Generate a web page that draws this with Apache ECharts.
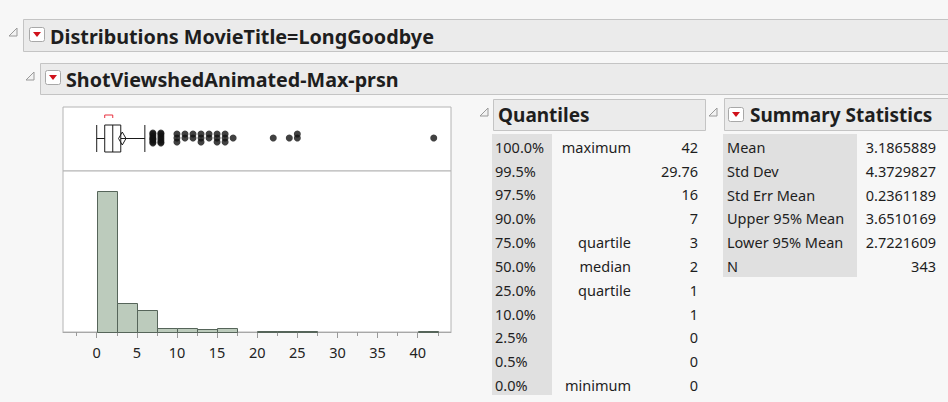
<!DOCTYPE html>
<html>
<head>
<meta charset="utf-8">
<script src="https://cdn.jsdelivr.net/npm/echarts@6/dist/echarts.min.js"></script>
<style>
  html, body { margin: 0; padding: 0; background: #f7f7f7; }
  #chart { width: 948px; height: 402px; }
</style>
</head>
<body>
<div id="chart"></div>
<script>
// ---- Data ----
const reportTitle = 'Distributions MovieTitle=LongGoodbye';
const columnTitle = 'ShotViewshedAnimated-Max-prsn';

// Histogram: bin start values (width 2.5) and counts
const binStarts = [0, 2.5, 5, 7.5, 10, 12.5, 15, 20, 22.5, 25, 40];
const binCounts = [227, 47, 36, 7, 7, 5, 7, 1, 1, 2, 1];
const binWidth = 2.5;

// Outlier points beyond the upper whisker, with how many shots share each value
const outlierValues = [7, 8, 10, 11, 12, 13, 14, 15, 16, 17, 22, 24, 25, 42];
const outlierCounts = [8, 7, 3, 2, 2, 3, 2, 3, 3, 1, 1, 1, 2, 1];
const upperWhisker = 6;
const shortestHalf = [1, 2];

// Axis tick labels
const majorTicks = [0, 5, 10, 15, 20, 25, 30, 35, 40];
const minorTicks = [-2.5, 2.5, 7.5, 12.5, 17.5, 22.5, 27.5, 32.5, 37.5, 42.5];

// Quantiles table
const quantileLevels = ['100.0%', '99.5%', '97.5%', '90.0%', '75.0%', '50.0%', '25.0%', '10.0%', '2.5%', '0.5%', '0.0%'];
const quantileNames = ['maximum', '', '', '', 'quartile', 'median', 'quartile', '', '', '', 'minimum'];
const quantileValues = ['42', '29.76', '16', '7', '3', '2', '1', '1', '0', '0', '0'];

// Summary statistics table
const summaryNames = ['Mean', 'Std Dev', 'Std Err Mean', 'Upper 95% Mean', 'Lower 95% Mean', 'N'];
const summaryValues = ['3.1865889', '4.3729827', '0.2361189', '3.6510169', '2.7221609', '343'];

// ---- Derived values ----
const qMin = +quantileValues[10];
const q1 = +quantileValues[6];
const qMed = +quantileValues[5];
const q3 = +quantileValues[4];
const mean = +summaryValues[0];
const upper95 = +summaryValues[3];
const lower95 = +summaryValues[4];

const FONT = '"Noto Sans", "Open Sans", sans-serif';
const TXT = '#1e1e1e';
const CELL_FONT = '14.5px ' + FONT;

// ---- Report chrome (outline headers, icons, tables) ----
const graphics = [];

function header(x, y, w, h) {
  graphics.push({ type: 'rect', silent: true, shape: { x: x + 0.5, y: y + 0.5, width: w, height: h },
    style: { fill: '#ebebeb', stroke: '#c4c4c4', lineWidth: 1 } });
}
function disclosure(x, y) {
  graphics.push({ type: 'polygon', silent: true,
    shape: { points: [[x + 7, y], [x + 7, y + 8], [x - 1, y + 8]] },
    style: { fill: '#f2f2f2', stroke: '#9a9a9a', lineWidth: 1 } });
}
function menuIcon(x, y) {
  graphics.push({ type: 'rect', silent: true, shape: { x: x + 0.5, y: y + 0.5, width: 15, height: 14, r: 2 },
    style: { fill: '#ffffff', stroke: '#a8a8a8', lineWidth: 1 } });
  graphics.push({ type: 'polygon', silent: true,
    shape: { points: [[x + 4, y + 5], [x + 12, y + 5], [x + 8, y + 10]] },
    style: { fill: '#d0121b' } });
}
function text(str, x, y, opts) {
  graphics.push({ type: 'text', silent: true, style: Object.assign({
    text: str, x: x, y: y, fill: TXT, font: CELL_FONT,
    textAlign: 'left', textVerticalAlign: 'middle' }, opts || {}) });
}

// Report headers
header(23, 19, 940, 32);
disclosure(10, 28);
menuIcon(29, 27);
text(reportTitle, 50, 36, { font: 'bold 19.8px ' + FONT });

header(40, 63, 920, 31);
disclosure(27, 72);
menuIcon(45, 70);
text(columnTitle, 66, 79, { font: 'bold 19.7px ' + FONT });

// Quantiles
header(493, 99, 212, 31);
disclosure(481, 108);
text('Quantiles', 498, 115, { font: 'bold 19px ' + FONT });
graphics.push({ type: 'rect', silent: true, shape: { x: 492, y: 134, width: 60, height: 261 },
  style: { fill: '#e0e0e0' } });
quantileLevels.forEach(function (lv, i) {
  const y = 146.7 + i * 23.83;
  text(lv, 495, y);
  if (quantileNames[i]) text(quantileNames[i], 631, y, { textAlign: 'right' });
  text(quantileValues[i], 698, y, { textAlign: 'right' });
});

// Summary Statistics
header(724, 98, 240, 32);
disclosure(710, 108);
menuIcon(728, 107);
text('Summary Statistics', 750, 115, { font: 'bold 19px ' + FONT });
graphics.push({ type: 'rect', silent: true, shape: { x: 723, y: 134, width: 134, height: 143 },
  style: { fill: '#e0e0e0' } });
summaryNames.forEach(function (nm, i) {
  const y = 147.3 + i * 23.7;
  text(nm, 727, y);
  text(summaryValues[i], 936, y, { textAlign: 'right' });
});

// ---- Outlier points, stacked with a small vertical jitter ----
const jitter = [0, -4, 4, -2, 2, -5, 5, 1];
const outlierPoints = [];
outlierValues.forEach(function (v, i) {
  for (let k = 0; k < outlierCounts[i]; k++) outlierPoints.push([v, 31 + jitter[k % jitter.length]]);
});

const histData = binStarts.map(function (s, i) { return [s, s + binWidth, binCounts[i]]; });

const xMin = -4.2, xMax = 44.15;

const chart = echarts.init(document.getElementById('chart'), null, { renderer: 'svg' });
chart.setOption({
  backgroundColor: '#f7f7f7',
  animation: false,
  textStyle: { fontFamily: FONT },
  graphic: graphics,
  grid: [
    { left: 63, top: 107, width: 388, height: 64, show: true, backgroundColor: '#ffffff', borderColor: '#b4b4b4', borderWidth: 1 },
    { left: 63, top: 171, width: 388, height: 161, show: true, backgroundColor: '#ffffff', borderColor: '#b4b4b4', borderWidth: 1 }
  ],
  xAxis: [
    { gridIndex: 0, type: 'value', min: xMin, max: xMax, show: false },
    { gridIndex: 1, type: 'value', min: xMin, max: xMax, position: 'bottom',
      axisLine: { show: true, lineStyle: { color: '#a8a8a8' } },
      axisTick: { show: true, length: 6, customValues: majorTicks, lineStyle: { color: '#9a9a9a' } },
      axisLabel: { show: true, customValues: majorTicks, margin: 12, fontSize: 14.5, color: '#222', fontFamily: FONT },
      splitLine: { show: false } },
    { gridIndex: 1, type: 'value', min: xMin, max: xMax, position: 'bottom',
      axisLine: { show: false },
      axisTick: { show: true, length: 4, customValues: minorTicks, lineStyle: { color: '#9a9a9a' } },
      axisLabel: { show: false },
      splitLine: { show: false } }
  ],
  yAxis: [
    { gridIndex: 0, type: 'value', min: 0, max: 64, inverse: true, show: false },
    { gridIndex: 1, type: 'value', min: 0, max: 259, show: false }
  ],
  series: [
    {
      // Outlier box plot: whiskers, box, median, mean diamond, shortest-half bracket
      type: 'custom', xAxisIndex: 0, yAxisIndex: 0, silent: true,
      data: [[qMin, q1, qMed, q3, upperWhisker]],
      renderItem: function (params, api) {
        const c = function (x, y) { return api.coord([x, y]); };
        const top = 18, bot = 45, mid = 31.5;
        const ls = { stroke: '#1a1a1a', lineWidth: 1, fill: 'none' };
        const line = function (a, b) { return { type: 'line', shape: { x1: a[0], y1: a[1], x2: b[0], y2: b[1] }, style: ls }; };
        const pBoxTL = c(q1, top), pBoxBR = c(q3, bot);
        return { type: 'group', children: [
          line(c(qMin, top), c(qMin, bot)),
          line(c(qMin, mid), c(q1, mid)),
          line(c(q3, mid), c(upperWhisker, mid)),
          line(c(upperWhisker, top), c(upperWhisker, bot)),
          { type: 'rect', shape: { x: pBoxTL[0], y: pBoxTL[1], width: pBoxBR[0] - pBoxTL[0], height: pBoxBR[1] - pBoxTL[1] }, style: ls },
          line(c(qMed, top), c(qMed, bot)),
          { type: 'polygon', shape: { points: [c(lower95, mid), c(mean, mid - 6.5), c(upper95, mid), c(mean, mid + 6.5)] }, style: ls },
          { type: 'polyline', shape: { points: [c(shortestHalf[0], 11), c(shortestHalf[0], 8), c(shortestHalf[1], 8), c(shortestHalf[1], 11)] },
            style: { stroke: '#e8303f', lineWidth: 1, fill: 'none' } }
        ] };
      }
    },
    {
      type: 'scatter', xAxisIndex: 0, yAxisIndex: 0, silent: true,
      symbol: 'circle', symbolSize: 7,
      itemStyle: { color: '#111111' },
      data: outlierPoints
    },
    {
      // Histogram bars
      type: 'custom', xAxisIndex: 1, yAxisIndex: 1, silent: true,
      data: histData,
      renderItem: function (params, api) {
        const p0 = api.coord([api.value(0), 0]);
        const p1 = api.coord([api.value(1), api.value(2)]);
        return { type: 'rect',
          shape: { x: Math.round(p0[0]) + 0.5, y: Math.round(p1[1]) + 0.5, width: Math.round(p1[0] - p0[0]), height: Math.round(p0[1]) - Math.round(p1[1]) },
          style: { fill: '#bccbbc', stroke: '#56655a', lineWidth: 1 } };
      }
    }
  ]
});
</script>
</body>
</html>
